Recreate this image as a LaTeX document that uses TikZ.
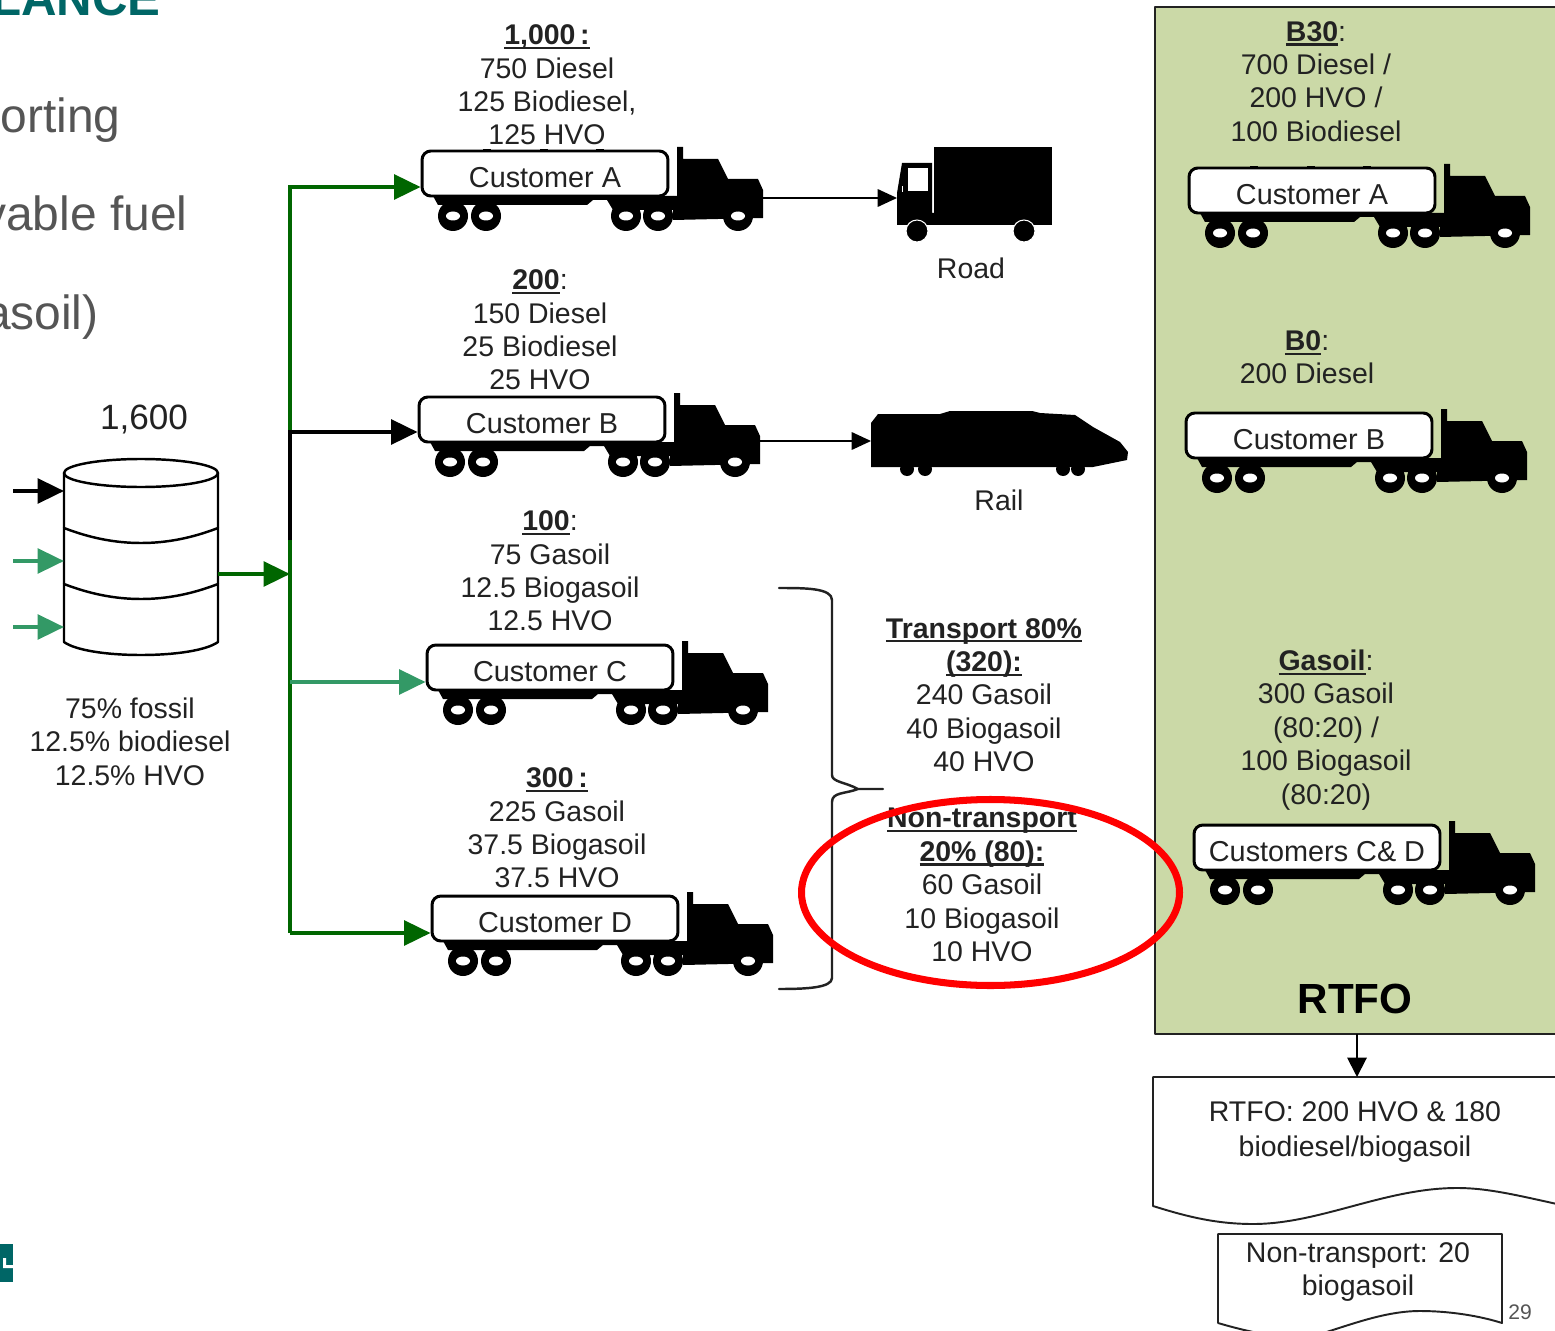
\documentclass[tikz,border=0pt]{standalone}
\usepackage{fontspec}
\setmainfont{Liberation Sans}
\usetikzlibrary{arrows.meta}
\definecolor{darkgrn}{HTML}{006600}
\definecolor{seagrn}{HTML}{339966}
\definecolor{rtfogrn}{HTML}{CBD9A7}
\definecolor{tealhd}{HTML}{006666}
\definecolor{slidegray}{HTML}{555555}
\definecolor{inkgray}{HTML}{222222}
\tikzset{
  txt/.style={font=\fontsize{16.2}{19}\selectfont,text=inkgray,align=center,inner sep=0pt},
  tank/.style={draw=black,line width=1.7pt,fill=white,rounded corners=5pt,minimum width=4.92cm,minimum height=0.9cm,inner sep=0pt,font=\fontsize{16.4}{19}\selectfont,text=inkgray},
  feed/.style={line width=2.2pt,line cap=butt,line join=miter,-{Triangle[length=15pt,width=14pt]}},
  thinfeed/.style={line width=0.9pt,line cap=butt,-{Triangle[length=11pt,width=10pt]}},
  wavy/.style={draw=inkgray,line width=1.1pt},
}
\newcommand{\hdline}[1]{\leavevmode\vtop{\hbox{\raisebox{0pt}[\height][0pt]{\textbf{#1}}}\kern1.2pt\hrule height 1.3pt}}
% tanker: name, x, y of the tank corner, label
\newcommand{\tanker}[4]{
  \begin{scope}[shift={(#2,#3)}]
    \fill (11,45) -- (16,54) -- (165,54) -- (171,49) -- (185,49) -- (191,59) -- (251,59) -- (251,45) -- cycle;
    \fill (251,45) -- (255,45) -- (255,-4) -- (261,-4) -- (261,8) -- (296,8) -- (306,28) -- (336,28) -- (341,39) -- (341,67) -- (251,69) -- cycle;
    \foreach \wx in {31,64,204,236,316} {
      \fill (\wx,65) circle[radius=15];
      \fill[white] (\wx,65) ellipse[x radius=7,y radius=4.5];
    }
    \foreach \wx in {65,122,178} {
      \fill (\wx-4,-1.5) rectangle (\wx+4,1);
    }
    \node[tank] (#1) at (123,22.5) {\raisebox{-8.2pt}[0pt][0pt]{#4}};
  \end{scope}
}
\begin{document}
\begin{tikzpicture}[x=0.02cm,y=-0.02cm,line cap=round,line join=round]
  \useasboundingbox (0,0) rectangle (1555,1331);
  \clip (0,0) rectangle (1555,1331);
  % slide left over
  \node[anchor=base east,font=\bfseries\fontsize{28}{28}\selectfont,text=tealhd,inner sep=0pt] (heading) at (161,16) {LANCE};
  \node[anchor=base east,font=\fontsize{27.3}{26}\selectfont,text=slidegray,inner sep=0pt] (slineA) at (121,133) {orting};
  \node[anchor=base east,font=\fontsize{27.3}{26}\selectfont,text=slidegray,inner sep=0pt] (slineB) at (188,231) {vable fuel};
  \node[anchor=base east,font=\fontsize{27.3}{26}\selectfont,text=slidegray,inner sep=0pt] (slineC) at (99,329) {asoil)};
  \fill[tealhd] (0,1244) rectangle (13,1282);
  \fill[white] (3,1258) rectangle (6,1268) (3,1265) rectangle (13,1268);
  \node[font=\fontsize{12}{12}\selectfont,inner sep=0pt,text=slidegray] (pageno) at (1520,1312) {29};

  % storage drum
  \draw[line width=1.4pt,fill=white] (64,473) -- (64,642) .. controls (75,650) and (105,655) .. (141,655) .. controls (177,655) and (207,650) .. (218,642) -- (218,473);
  \draw[line width=1.4pt,fill=white] (141,473) ellipse[x radius=77,y radius=14];
  \draw[line width=1.4pt] (64,528) .. controls (90,538) and (115,543) .. (141,543) .. controls (167,543) and (192,538) .. (218,528);
  \draw[line width=1.4pt] (64,584) .. controls (90,594) and (115,599) .. (141,599) .. controls (167,599) and (192,594) .. (218,584);
  \coordinate (drumin1) at (64,491);
  \coordinate (drumin2) at (64,561);
  \coordinate (drumin3) at (64,627);
  \coordinate (feed1) at (13,491);
  \coordinate (feed2) at (13,561);
  \coordinate (feed3) at (13,627);
  \coordinate (drumout) at (218,574);
  \coordinate (bus) at (290,574);
  \draw[feed,black] (feed1) -- (drumin1);
  \draw[feed,seagrn] (feed2) -- (drumin2);
  \draw[feed,seagrn] (feed3) -- (drumin3);
  \node[txt,font=\fontsize{20}{22}\selectfont] (drumtop) at (144,419) {1,600};
  \node[txt] (drummix) at (130,741.5) {75\% fossil\\12.5\% biodiesel\\12.5\% HVO};

  % customers
  \tanker{custA}{422}{151}{Customer A}
  \tanker{custB}{419}{397}{Customer B}
  \tanker{custC}{427}{645}{Customer C}
  \tanker{custD}{432}{896}{Customer D}
  \node[txt] (volA) at (547,85) {\hdline{1,000\,:}\\750 Diesel\\125 Biodiesel,\\125 HVO};
  \node[txt] (volB) at (540,330) {\hdline{200}:\\150 Diesel\\25 Biodiesel\\25 HVO};
  \node[txt] (volC) at (550,571) {\hdline{100}:\\75 Gasoil\\12.5 Biogasoil\\12.5 HVO};
  \node[txt] (volD) at (557,828) {\hdline{300\,:}\\225 Gasoil\\37.5 Biogasoil\\37.5 HVO};

  % bus lines
  \coordinate (busA) at (290,187);
  \coordinate (busB) at (290,432);
  \coordinate (busBend) at (290,540);
  \coordinate (busC) at (290,682);
  \coordinate (busD) at (290,933);
  \draw[feed,darkgrn] (busD) -- (busA) -- (custA.west |- busA);
  \draw[feed,darkgrn] (busD) -- (custD.west |- busD);
  \draw[feed,seagrn] (busC) -- (custC.west |- busC);
  \draw[feed,black] (busBend) -- (busB) -- (custB.west |- busB);
  \draw[feed,darkgrn] (drumout) -- (bus);

  % road and rail
  \fill (934,147) rectangle (1052,225);
  \fill (897,225) -- (897,193) -- (902,163) -- (932,163) -- (932,213) -- (934,213) -- (934,225) -- cycle;
  \fill[white] (908,168) rectangle (928,191);
  \fill[white] (901.5,186) rectangle (903,192);
  \fill[draw=white,line width=0.6pt] (917,231) circle[radius=11] (1024,231) circle[radius=11];
  \coordinate (roadin) at (897,198);
  \coordinate (tankAout) at (763,198);
  \draw[thinfeed] (tankAout) -- (roadin);
  \node[txt] (road) at (971,268) {Road};
  \fill (871,467) -- (871,423) -- (878,414) -- (940,414) -- (950,411) -- (1032,411) -- (1040,413) -- (1075,415) -- (1093,427) -- (1120,442) -- (1128,452) -- (1127,460) -- (1093,467) -- cycle;
  \fill (907,469) circle[radius=7] (925,469) circle[radius=7] (1063,469) circle[radius=7] (1078,469) circle[radius=7];
  \coordinate (railin) at (871,441);
  \coordinate (tankBout) at (760,441);
  \draw[thinfeed] (tankBout) -- (railin);
  \node[txt] (rail) at (999,500) {Rail};

  % brace
  \draw[line width=1.4pt,inkgray] (779,588) .. controls (805,588) and (832,588) .. (832,600) -- (832,775) .. controls (832,782) and (845,782) .. (858,789) -- (883,789) -- (858,789) .. controls (845,794) and (832,792) .. (832,802) -- (832,978) .. controls (832,988) and (805,989) .. (779,989);
  \node[txt] (transport) at (984,695) {\hdline{Transport 80\%}\\\hdline{(320):}\\240 Gasoil\\40 Biogasoil\\40 HVO};
  \node[txt] (nontransport) at (982,885) {\hdline{Non-transport}\\\hdline{20\% (80):}\\60 Gasoil\\10 Biogasoil\\10 HVO};

  % rtfo panel
  \draw[draw=inkgray,line width=1.1pt,fill=rtfogrn] (1155,7) rectangle (1575,1034);
  \tanker{rtfoA}{1189}{168}{Customer A}
  \tanker{rtfoB}{1186}{413}{Customer B}
  \tanker{rtfoC}{1194}{825}{Customers C\& D}
  \node[txt] (blendA) at (1316,81.5) {\hdline{B30}:\\700 Diesel /\\200 HVO /\\100 Biodiesel};
  \node[txt] (blendB) at (1307,357.5) {\hdline{B0}:\\200 Diesel};
  \node[txt] (blendC) at (1326,730) {\hdline{Gasoil}:\\300 Gasoil\\(80:20) /\\100 Biogasoil\\(80:20)};
  \node[txt,font=\bfseries\fontsize{24}{24}\selectfont,text=black] (rtfo) at (1355,999) {RTFO};

  % certificates
  \draw[wavy,fill=white] (1575,1077) -- (1153,1077) -- (1153,1206) .. controls (1185,1216) and (1215,1224) .. (1253,1224) .. controls (1320,1224) and (1385,1188) .. (1457,1188) .. controls (1490,1188) and (1520,1196) .. (1575,1208);
  \node[txt] (certs) at (1355,1132) {RTFO: 200 HVO \& 180\\[0.5pt]biodiesel/biogasoil};
  \draw[wavy,fill=white] (1218,1323) -- (1218,1234) -- (1502,1234) -- (1502,1323) .. controls (1480,1316) and (1450,1311) .. (1420,1311) .. controls (1385,1311) and (1350,1325) .. (1320,1334) -- (1300,1340) .. controls (1270,1336) and (1245,1331) .. (1218,1323);
  \node[txt] (nontrans) at (1358,1272) {Non-transport: 20\\biogasoil};
  \coordinate (panelout) at (1357,1034);
  \coordinate (certsin) at (1357,1077);
  \draw[line width=1.1pt,line cap=butt,-{Triangle[length=11pt,width=11pt]}] (panelout) -- (certsin);

  % red ring
  \draw[red,line width=4pt] (990.5,892.5) ellipse[x radius=189,y radius=93];
\end{tikzpicture}
\end{document}
